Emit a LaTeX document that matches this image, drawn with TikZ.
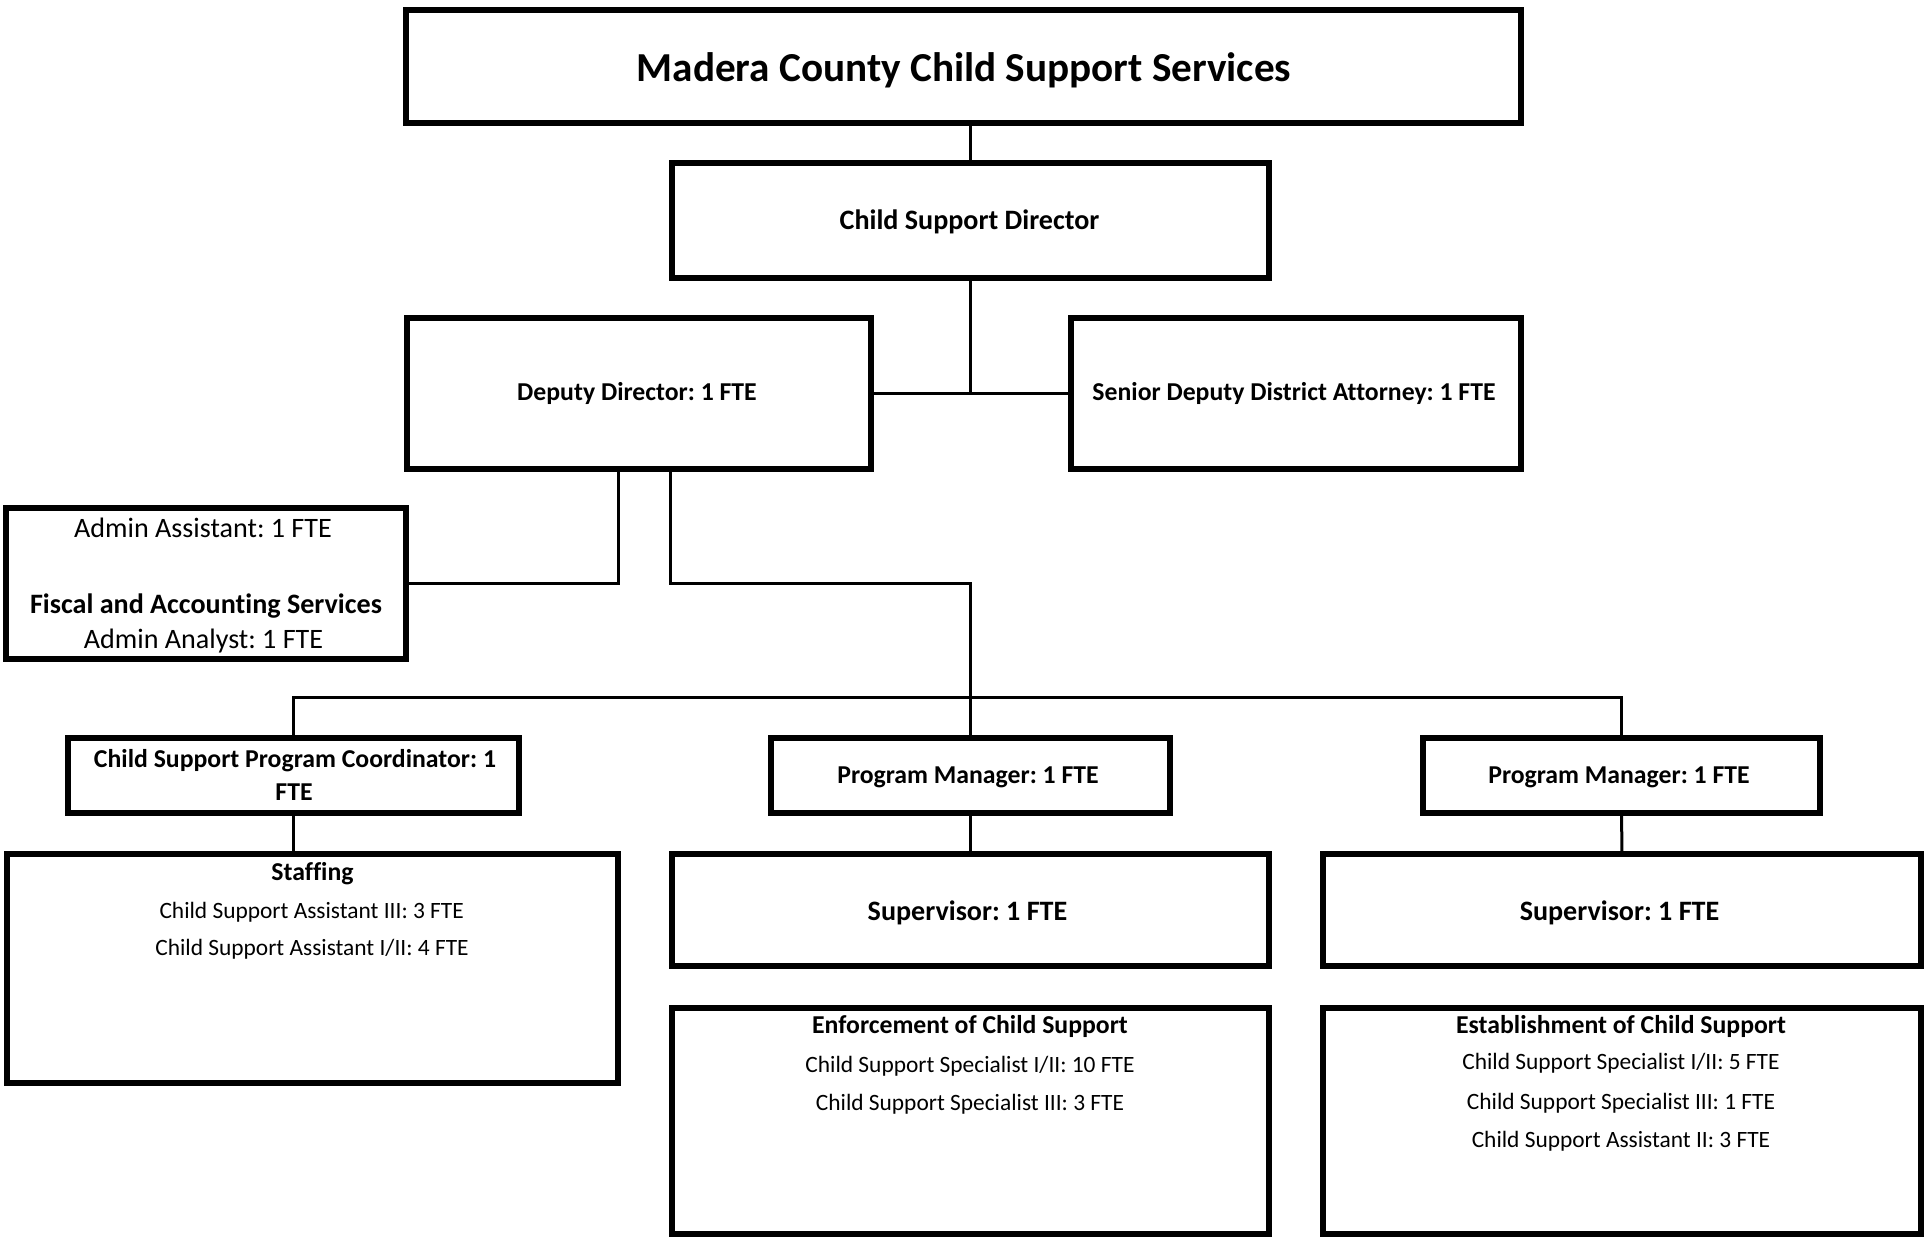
\documentclass[tikz,border=0pt]{standalone}
\usepackage{fontspec}
\setmainfont{Carlito}[Ligatures=NoCommon]
\frenchspacing
\begin{document}
\frenchspacing
\begin{tikzpicture}[x=1pt,y=-1pt,
  box/.style={draw=black, line width=6pt, inner sep=0pt, outer sep=0pt, rectangle},
  link/.style={draw=black, line width=3pt, line join=miter},
  lbl/.style={anchor=base, inner sep=0pt, outer sep=0pt},
  ttl/.style={lbl, font=\bfseries\fontsize{41.2}{49}\selectfont},
  bA/.style={lbl, font=\bfseries\fontsize{25.75}{31}\selectfont},
  bB/.style={lbl, font=\bfseries\fontsize{28.1}{34}\selectfont},
  rB/.style={lbl, font=\fontsize{28.1}{34}\selectfont},
  rS/.style={lbl, font=\fontsize{23.4}{28}\selectfont}
]
\fill[white] (0,0) rectangle (1929,1237);
\useasboundingbox (0,0) rectangle (1929,1237);

% boxes
\node[box, minimum width=1115pt, minimum height=113pt] (title) at (963.5,66.5) {};
\node[box, minimum width=597pt, minimum height=115pt] (dir) at (970.5,220.5) {};
\node[box, minimum width=464pt, minimum height=151pt] (dep) at (639,393.5) {};
\node[box, minimum width=450pt, minimum height=151pt] (sen) at (1296,393.5) {};
\node[box, minimum width=400pt, minimum height=151pt] (adm) at (206,583.5) {};
\node[box, minimum width=451pt, minimum height=75pt] (coord) at (293.5,775.5) {};
\node[box, minimum width=399pt, minimum height=75pt] (pmA) at (970.5,775.5) {};
\node[box, minimum width=397pt, minimum height=75pt] (pmB) at (1621.5,775.5) {};
\node[box, minimum width=611pt, minimum height=229pt] (staff) at (312.5,968.5) {};
\node[box, minimum width=597pt, minimum height=112pt] (supA) at (970.5,910) {};
\node[box, minimum width=598pt, minimum height=112pt] (supB) at (1622,910) {};
\node[box, minimum width=597pt, minimum height=226pt] (enf) at (970.5,1121) {};
\node[box, minimum width=598pt, minimum height=226pt] (est) at (1622,1121) {};

% helper coordinates
\coordinate (xa) at (618.5,0);
\coordinate (xb) at (670.5,0);
\coordinate (bus) at (0,697.5);

% connectors
\draw[link] (dir.north) -- (dir.north |- title.south);
\draw[link] (dir.south) -- (dir.south |- dep.east);
\draw[link] (dep.east) -- (sen.west);
\draw[link] (dep.south -| xa) |- (adm.east);
\draw[link] (dep.south -| xb) |- (pmA.north |- adm.east) -- (pmA.north);
\draw[link] (coord.north) -- (coord.north |- bus) -- (pmB.north |- bus) -- (pmB.north);
\draw[link] (coord.south) -- (coord.south |- staff.north);
\draw[link] (pmA.south) -- (supA.north);
\draw[link] (pmB.south) -- (supB.north);

% texts
\node[ttl] (tTitle) at (964,81) {Madera County Child Support Services};
\node[bB] (tDir) at (969.5,229.7) {Child Support Director};
\node[bA] (tDep) at (637,400) {Deputy Director: 1 FTE};
\node[bA] (tSen) at (1294,400) {Senior Deputy District Attorney: 1 FTE};
\node[rB] (tAdmA) at (203,537) {Admin Assistant: 1 FTE};
\node[bB] (tFis) at (206,613) {Fiscal and Accounting Services};
\node[rB] (tAdmB) at (203.5,648) {Admin Analyst: 1 FTE};
\node[bA] (tCoA) at (295,767.2) {Child Support Program Coordinator: 1};
\node[bA] (tCoB) at (294,800.5) {FTE};
\node[bA] (tPmA) at (968,783.7) {Program Manager: 1 FTE};
\node[bA] (tPmB) at (1619,783.7) {Program Manager: 1 FTE};
\node[bA] (tStH) at (312.5,880.4) {Staffing};
\node[rS] (tStA) at (311.7,918) {Child Support Assistant III: 3 FTE};
\node[rS] (tStB) at (312,955.8) {Child Support Assistant I/II: 4 FTE};
\node[bB] (tSupA) at (967.5,920.2) {Supervisor: 1 FTE};
\node[bB] (tSupB) at (1619.5,920.2) {Supervisor: 1 FTE};
\node[bA] (tEnH) at (970,1033.2) {Enforcement of Child Support};
\node[rS] (tEnA) at (970,1072.7) {Child Support Specialist I/II: 10 FTE};
\node[rS] (tEnB) at (970,1110.7) {Child Support Specialist III: 3 FTE};
\node[bA] (tEsH) at (1621,1033.5) {Establishment of Child Support};
\node[rS] (tEsA) at (1621,1069) {Child Support Specialist I/II: 5 FTE};
\node[rS] (tEsB) at (1621,1109.2) {Child Support Specialist III: 1 FTE};
\node[rS] (tEsC) at (1621,1147) {Child Support Assistant II: 3 FTE};
\end{tikzpicture}
\end{document}
